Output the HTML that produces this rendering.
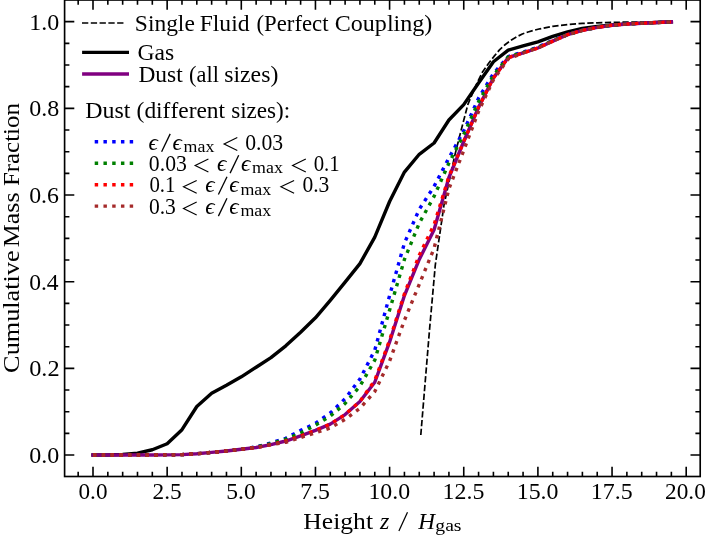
<!DOCTYPE html>
<html><head><meta charset="utf-8"><title>Cumulative Mass Fraction</title>
<style>html,body{margin:0;padding:0;background:#fff;}svg{display:block;will-change:transform;}text{font-family:"Liberation Serif",serif;fill:#000;font-kerning:none;}</style></head><body>
<svg width="706" height="537" viewBox="0 0 706 537">
<rect width="706" height="537" fill="#fff"/>
<g fill="none" stroke-linejoin="round">
<polyline points="420.80,435.00 429.50,330.00 435.30,265.00 444.00,205.00 454.90,155.00 460.70,131.90 467.90,104.30 477.10,82.80 482.70,71.70 488.30,63.70 494.00,56.40 499.70,49.60 505.30,44.50 511.00,40.20 516.70,36.80 522.30,34.00 528.00,32.00 533.70,30.40 540.00,28.80 552.70,26.30 567.60,24.50 582.40,23.40 597.20,22.80 626.90,22.10 671.40,21.70" stroke="#000" stroke-width="1.70" stroke-dasharray="6.30 2.49"/>
<polyline points="93.00,455.06 107.83,455.06 122.66,454.54 137.49,453.11 152.32,449.77 167.15,443.79 181.98,429.66 196.81,406.52 211.64,393.30 226.47,385.28 241.30,376.83 256.13,367.21 270.96,357.59 285.79,345.80 300.62,332.19 315.45,317.80 330.28,300.34 345.11,282.13 359.94,263.63 374.77,237.06 389.60,201.52 404.43,172.05 419.26,154.28 434.09,143.01 448.92,120.04 463.75,104.66 478.58,82.99 493.41,61.75 508.24,50.09 523.07,45.89 537.90,41.86 552.73,36.40 567.56,31.89 582.39,28.33 597.22,26.43 612.05,24.91 626.88,23.91 641.71,23.13 656.54,22.53 671.37,21.88" stroke="#000" stroke-width="3.40" stroke-linecap="square"/>
<polyline points="93.00,455.06 107.83,455.06 122.66,455.06 137.49,455.06 152.32,455.06 167.15,454.84 181.98,454.63 196.81,453.76 211.64,452.42 226.47,450.99 241.30,449.30 256.13,447.48 270.96,444.62 285.79,441.02 300.62,435.95 315.45,430.40 330.28,424.07 345.11,414.58 359.94,401.45 374.77,382.25 389.60,341.94 404.43,295.57 419.26,259.47 434.09,229.82 448.92,177.51 463.75,141.50 478.58,107.26 493.41,78.00 508.24,57.55 523.07,52.99 537.90,48.01 552.73,41.16 567.56,34.66 582.39,30.33 597.22,27.38 612.05,25.21 626.88,24.04 641.71,23.18 656.54,22.53 671.37,21.88" stroke="#800080" stroke-width="3.40" stroke-linecap="square"/>
<polyline points="93.00,455.06 107.83,455.06 122.66,455.06 137.49,455.06 152.32,455.06 167.15,454.84 181.98,454.63 196.81,453.76 211.64,452.42 226.47,450.99 241.30,449.30 256.13,446.83 270.96,442.92 285.79,438.33 300.62,430.40 315.45,423.29 330.28,413.02 345.11,398.72 359.94,379.00 374.77,350.18 389.60,295.57 404.43,243.13 419.26,209.32 434.09,186.35 448.92,158.01 463.75,130.88 478.58,98.11 493.41,73.67 508.24,56.55 523.07,52.13 537.90,47.14 552.73,40.30 567.56,34.66 582.39,30.33 597.22,27.38 612.05,25.21 626.88,24.04 641.71,23.18 656.54,22.53 671.37,21.88" stroke="#0000ff" stroke-width="3.40" stroke-dasharray="3.45 5.3"/>
<polyline points="93.00,455.06 107.83,455.06 122.66,455.06 137.49,455.06 152.32,455.06 167.15,454.84 181.98,454.63 196.81,453.76 211.64,452.42 226.47,450.99 241.30,449.30 256.13,447.04 270.96,443.57 285.79,439.11 300.62,433.09 315.45,425.16 330.28,416.18 345.11,403.49 359.94,386.15 374.77,360.15 389.60,310.09 404.43,259.47 419.26,223.19 434.09,196.32 448.92,163.17 463.75,134.34 478.58,101.84 493.41,75.40 508.24,56.98 523.07,52.52 537.90,47.53 552.73,40.73 567.56,34.66 582.39,30.33 597.22,27.38 612.05,25.21 626.88,24.04 641.71,23.18 656.54,22.53 671.37,21.88" stroke="#008000" stroke-width="3.40" stroke-dasharray="3.45 5.3"/>
<polyline points="93.00,455.06 107.83,455.06 122.66,455.06 137.49,455.06 152.32,455.06 167.15,454.84 181.98,454.63 196.81,453.76 211.64,452.42 226.47,450.99 241.30,449.30 256.13,447.48 270.96,444.62 285.79,441.02 300.62,435.95 315.45,430.40 330.28,424.07 345.11,414.58 359.94,401.45 374.77,380.52 389.60,340.21 404.43,293.84 419.26,255.26 434.09,224.62 448.92,176.51 463.75,141.50 478.58,107.26 493.41,78.00 508.24,57.55 523.07,52.99 537.90,48.01 552.73,41.16 567.56,34.66 582.39,30.33 597.22,27.38 612.05,25.21 626.88,24.04 641.71,23.18 656.54,22.53 671.37,21.88" stroke="#ff0000" stroke-width="3.40" stroke-dasharray="3.45 5.3"/>
<polyline points="93.00,455.06 107.83,455.06 122.66,455.06 137.49,455.06 152.32,455.06 167.15,454.84 181.98,454.63 196.81,453.76 211.64,452.42 226.47,450.99 241.30,449.30 256.13,447.48 270.96,444.62 285.79,442.27 300.62,437.51 315.45,432.78 330.28,428.02 345.11,419.30 359.94,408.25 374.77,391.61 389.60,361.01 404.43,320.27 419.26,284.30 434.09,248.33 448.92,188.78 463.75,150.38 478.58,111.37 493.41,79.74 508.24,58.93 523.07,52.99 537.90,48.01 552.73,41.16 567.56,34.66 582.39,30.33 597.22,27.38 612.05,25.21 626.88,24.04 641.71,23.18 656.54,22.53 671.37,21.88" stroke="#a52a2a" stroke-width="3.40" stroke-dasharray="3.45 5.3"/>
</g>
<g stroke="#000" stroke-width="1.60" fill="none">
<path d="M78.17 476.50V471.70M78.17 0.00V4.80"/>
<path d="M93.00 476.50V466.80M93.00 0.00V9.70"/>
<path d="M107.83 476.50V471.70M107.83 0.00V4.80"/>
<path d="M122.66 476.50V471.70M122.66 0.00V4.80"/>
<path d="M137.49 476.50V471.70M137.49 0.00V4.80"/>
<path d="M152.32 476.50V471.70M152.32 0.00V4.80"/>
<path d="M167.15 476.50V466.80M167.15 0.00V9.70"/>
<path d="M181.98 476.50V471.70M181.98 0.00V4.80"/>
<path d="M196.81 476.50V471.70M196.81 0.00V4.80"/>
<path d="M211.64 476.50V471.70M211.64 0.00V4.80"/>
<path d="M226.47 476.50V471.70M226.47 0.00V4.80"/>
<path d="M241.30 476.50V466.80M241.30 0.00V9.70"/>
<path d="M256.13 476.50V471.70M256.13 0.00V4.80"/>
<path d="M270.96 476.50V471.70M270.96 0.00V4.80"/>
<path d="M285.79 476.50V471.70M285.79 0.00V4.80"/>
<path d="M300.62 476.50V471.70M300.62 0.00V4.80"/>
<path d="M315.45 476.50V466.80M315.45 0.00V9.70"/>
<path d="M330.28 476.50V471.70M330.28 0.00V4.80"/>
<path d="M345.11 476.50V471.70M345.11 0.00V4.80"/>
<path d="M359.94 476.50V471.70M359.94 0.00V4.80"/>
<path d="M374.77 476.50V471.70M374.77 0.00V4.80"/>
<path d="M389.60 476.50V466.80M389.60 0.00V9.70"/>
<path d="M404.43 476.50V471.70M404.43 0.00V4.80"/>
<path d="M419.26 476.50V471.70M419.26 0.00V4.80"/>
<path d="M434.09 476.50V471.70M434.09 0.00V4.80"/>
<path d="M448.92 476.50V471.70M448.92 0.00V4.80"/>
<path d="M463.75 476.50V466.80M463.75 0.00V9.70"/>
<path d="M478.58 476.50V471.70M478.58 0.00V4.80"/>
<path d="M493.41 476.50V471.70M493.41 0.00V4.80"/>
<path d="M508.24 476.50V471.70M508.24 0.00V4.80"/>
<path d="M523.07 476.50V471.70M523.07 0.00V4.80"/>
<path d="M537.90 476.50V466.80M537.90 0.00V9.70"/>
<path d="M552.73 476.50V471.70M552.73 0.00V4.80"/>
<path d="M567.56 476.50V471.70M567.56 0.00V4.80"/>
<path d="M582.39 476.50V471.70M582.39 0.00V4.80"/>
<path d="M597.22 476.50V471.70M597.22 0.00V4.80"/>
<path d="M612.05 476.50V466.80M612.05 0.00V9.70"/>
<path d="M626.88 476.50V471.70M626.88 0.00V4.80"/>
<path d="M641.71 476.50V471.70M641.71 0.00V4.80"/>
<path d="M656.54 476.50V471.70M656.54 0.00V4.80"/>
<path d="M671.37 476.50V471.70M671.37 0.00V4.80"/>
<path d="M686.20 476.50V466.80M686.20 0.00V9.70"/>
<path d="M64.60 455.06H74.30M700.20 455.06H690.50"/>
<path d="M64.60 433.39H69.40M700.20 433.39H695.40"/>
<path d="M64.60 411.72H69.40M700.20 411.72H695.40"/>
<path d="M64.60 390.05H69.40M700.20 390.05H695.40"/>
<path d="M64.60 368.38H74.30M700.20 368.38H690.50"/>
<path d="M64.60 346.71H69.40M700.20 346.71H695.40"/>
<path d="M64.60 325.04H69.40M700.20 325.04H695.40"/>
<path d="M64.60 303.37H69.40M700.20 303.37H695.40"/>
<path d="M64.60 281.70H74.30M700.20 281.70H690.50"/>
<path d="M64.60 260.03H69.40M700.20 260.03H695.40"/>
<path d="M64.60 238.36H69.40M700.20 238.36H695.40"/>
<path d="M64.60 216.69H69.40M700.20 216.69H695.40"/>
<path d="M64.60 195.02H74.30M700.20 195.02H690.50"/>
<path d="M64.60 173.35H69.40M700.20 173.35H695.40"/>
<path d="M64.60 151.68H69.40M700.20 151.68H695.40"/>
<path d="M64.60 130.01H69.40M700.20 130.01H695.40"/>
<path d="M64.60 108.34H74.30M700.20 108.34H690.50"/>
<path d="M64.60 86.67H69.40M700.20 86.67H695.40"/>
<path d="M64.60 65.00H69.40M700.20 65.00H695.40"/>
<path d="M64.60 43.33H69.40M700.20 43.33H695.40"/>
<path d="M64.60 21.66H74.30M700.20 21.66H690.50"/>
</g>
<rect x="64.60" y="0.00" width="635.60" height="476.50" fill="none" stroke="#000" stroke-width="1.65"/>
<text transform="translate(78.52,499.20) scale(1.0031,1)" font-size="23.10">0.0</text>
<text transform="translate(152.53,499.20) scale(1.0090,1)" font-size="23.10">2.5</text>
<text transform="translate(226.33,499.20) scale(1.0205,1)" font-size="23.10">5.0</text>
<text transform="translate(300.28,499.20) scale(1.0284,1)" font-size="23.10">7.5</text>
<text transform="translate(368.40,499.20) scale(1.0343,1)" font-size="23.10">10.0</text>
<text transform="translate(442.55,499.20) scale(1.0349,1)" font-size="23.10">12.5</text>
<text transform="translate(516.70,499.20) scale(1.0343,1)" font-size="23.10">15.0</text>
<text transform="translate(590.85,499.20) scale(1.0349,1)" font-size="23.10">17.5</text>
<text transform="translate(665.08,499.20) scale(1.0070,1)" font-size="23.10">20.0</text>
<text transform="translate(29.19,463.16) scale(1.0400,1)" font-size="23.10">0.0</text>
<text transform="translate(29.17,376.48) scale(1.0554,1)" font-size="23.10">0.2</text>
<text transform="translate(29.20,289.80) scale(1.0205,1)" font-size="23.10">0.4</text>
<text transform="translate(29.19,203.12) scale(1.0327,1)" font-size="23.10">0.6</text>
<text transform="translate(29.19,116.44) scale(1.0400,1)" font-size="23.10">0.8</text>
<text transform="translate(29.19,29.76) scale(1.0399,1)" font-size="23.10">1.0</text>
<text transform="translate(303.36,529.20) scale(1.0758,1)" font-size="23.80">Height</text>
<text transform="translate(379.97,529.20) scale(1.0092,1)" font-size="23.80" font-style="italic">z</text>
<path d="M398.9 530.90L407.5 512.30" stroke="#000" stroke-width="1.25" fill="none"/>
<text transform="translate(418.35,529.20) scale(0.9777,1)" font-size="23.80" font-style="italic">H</text>
<text transform="translate(435.36,531.30) scale(1.1678,1)" font-size="16.80">gas</text>
<text transform="translate(18.90,372.88) rotate(-90) scale(1.1039,1)" font-size="23.80">Cumulative</text>
<text transform="translate(18.90,247.15) rotate(-90) scale(1.0882,1)" font-size="23.80">Mass</text>
<text transform="translate(18.90,186.12) rotate(-90) scale(1.0477,1)" font-size="23.80">Fraction</text>
<path d="M82.0 23.0H123.7" stroke="#000" stroke-width="1.70" stroke-dasharray="6.3 2.49" fill="none"/>
<text transform="translate(134.83,30.50) scale(1.0478,1)" font-size="22.40">Single</text><text transform="translate(199.72,30.50) scale(1.0520,1)" font-size="22.40">Fluid</text><text transform="translate(256.50,30.50) scale(1.0162,1)" font-size="22.40">(Perfect</text><text transform="translate(334.71,30.50) scale(1.0748,1)" font-size="22.40">Coupling)</text>
<path d="M83.8 52.4H127.3" stroke="#000" stroke-width="3.40" stroke-linecap="square" fill="none"/>
<text transform="translate(137.43,60.10) scale(1.0541,1)" font-size="22.40">Gas</text>
<path d="M83.8 74.0H127.3" stroke="#800080" stroke-width="3.40" stroke-linecap="square" fill="none"/>
<text transform="translate(138.42,81.60) scale(1.0472,1)" font-size="22.40">Dust</text><text transform="translate(189.12,81.60) scale(0.9959,1)" font-size="22.40">(all</text><text transform="translate(224.23,81.60) scale(1.0611,1)" font-size="22.40">sizes)</text>
<text transform="translate(85.21,117.80) scale(1.0688,1)" font-size="22.40">Dust</text><text transform="translate(136.57,117.80) scale(1.0473,1)" font-size="22.40">(different</text><text transform="translate(231.15,117.80) scale(1.0332,1)" font-size="22.40">sizes):</text>
<path d="M94.7 141.80H133.5" stroke="#0000ff" stroke-width="3.40" stroke-dasharray="3.45 5.3" fill="none"/>
<path d="M94.7 163.30H133.5" stroke="#008000" stroke-width="3.40" stroke-dasharray="3.45 5.3" fill="none"/>
<path d="M94.7 184.70H133.5" stroke="#ff0000" stroke-width="3.40" stroke-dasharray="3.45 5.3" fill="none"/>
<path d="M94.7 206.10H133.5" stroke="#a52a2a" stroke-width="3.40" stroke-dasharray="3.45 5.3" fill="none"/>
<text transform="translate(148.51,149.50) scale(1.0355,1)" font-size="22.40" font-style="italic">ϵ</text><path d="M161.60 151.70L170.20 133.90" stroke="#000" stroke-width="1.3" fill="none"/><text transform="translate(172.51,149.50) scale(1.0355,1)" font-size="22.40" font-style="italic">ϵ</text><text transform="translate(183.62,151.70) scale(1.0521,1)" font-size="17.00">max</text><path d="M237.30 137.60L224.10 144.05L237.30 150.50" stroke="#000" stroke-width="1.15" fill="none" stroke-linejoin="miter"/><text transform="translate(245.17,149.50) scale(0.9687,1)" font-size="22.40">0.03</text>
<text transform="translate(148.87,170.90) scale(0.9687,1)" font-size="22.40">0.03</text><path d="M208.40 159.00L195.20 165.45L208.40 171.90" stroke="#000" stroke-width="1.15" fill="none" stroke-linejoin="miter"/><text transform="translate(217.01,170.90) scale(1.0355,1)" font-size="22.40" font-style="italic">ϵ</text><path d="M230.10 173.10L238.70 155.30" stroke="#000" stroke-width="1.3" fill="none"/><text transform="translate(241.01,170.90) scale(1.0355,1)" font-size="22.40" font-style="italic">ϵ</text><text transform="translate(252.12,173.10) scale(1.0521,1)" font-size="17.00">max</text><path d="M305.80 159.00L292.60 165.45L305.80 171.90" stroke="#000" stroke-width="1.15" fill="none" stroke-linejoin="miter"/><text transform="translate(313.71,170.90) scale(0.9302,1)" font-size="22.40">0.1</text>
<text transform="translate(149.41,192.30) scale(0.9302,1)" font-size="22.40">0.1</text><path d="M196.70 180.40L183.50 186.85L196.70 193.30" stroke="#000" stroke-width="1.15" fill="none" stroke-linejoin="miter"/><text transform="translate(205.31,192.30) scale(1.0355,1)" font-size="22.40" font-style="italic">ϵ</text><path d="M218.40 194.50L227.00 176.70" stroke="#000" stroke-width="1.3" fill="none"/><text transform="translate(229.31,192.30) scale(1.0355,1)" font-size="22.40" font-style="italic">ϵ</text><text transform="translate(240.42,194.50) scale(1.0521,1)" font-size="17.00">max</text><path d="M294.10 180.40L280.90 186.85L294.10 193.30" stroke="#000" stroke-width="1.15" fill="none" stroke-linejoin="miter"/><text transform="translate(302.38,192.30) scale(0.9630,1)" font-size="22.40">0.3</text>
<text transform="translate(148.88,213.90) scale(0.9630,1)" font-size="22.40">0.3</text><path d="M196.70 202.00L183.50 208.45L196.70 214.90" stroke="#000" stroke-width="1.15" fill="none" stroke-linejoin="miter"/><text transform="translate(205.31,213.90) scale(1.0355,1)" font-size="22.40" font-style="italic">ϵ</text><path d="M218.40 216.10L227.00 198.30" stroke="#000" stroke-width="1.3" fill="none"/><text transform="translate(229.31,213.90) scale(1.0355,1)" font-size="22.40" font-style="italic">ϵ</text><text transform="translate(240.42,216.10) scale(1.0521,1)" font-size="17.00">max</text>
</svg></body></html>
